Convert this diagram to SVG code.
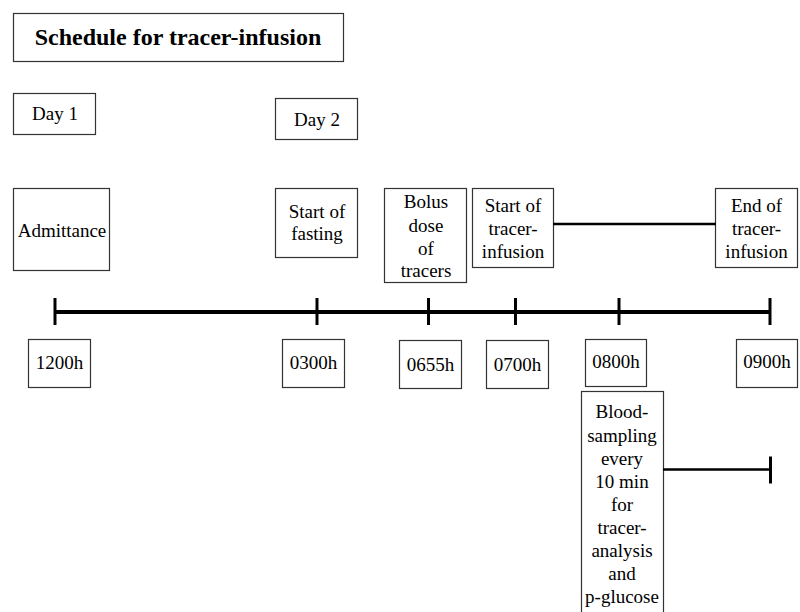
<svg xmlns="http://www.w3.org/2000/svg" width="800" height="612" viewBox="0 0 800 612">
<style>
.box{fill:#fff;stroke:#333;stroke-width:1.2}
.t{font-family:"Liberation Serif","Times New Roman",serif;font-size:19px;fill:#000;text-anchor:middle}
.title{font-family:"Liberation Serif","Times New Roman",serif;font-size:24px;font-weight:bold;fill:#000;text-anchor:middle}
.ax{stroke:#000;stroke-width:4;fill:none}
.tk{stroke:#000;stroke-width:3;fill:none}
.ln{stroke:#000;stroke-width:2.5;fill:none}
</style>
<rect width="800" height="612" fill="#fff"/>
<g id="title"><rect class="box" x="13.5" y="13.5" width="330" height="48"/><text class="title" x="178" y="45">Schedule for tracer-infusion</text></g>
<g id="day1"><rect class="box" x="13.5" y="93.5" width="82" height="41"/><text class="t" x="55" y="120">Day 1</text></g>
<g id="day2"><rect class="box" x="275.5" y="98.5" width="82" height="41"/><text class="t" x="317" y="126">Day 2</text></g>
<g id="admittance"><rect class="box" x="13.5" y="188.5" width="96" height="82"/><text class="t" x="62" y="237">Admittance</text></g>
<g id="fasting"><rect class="box" x="275.5" y="188.5" width="82" height="69"/><text class="t" x="317" y="218">Start of</text><text class="t" x="317" y="240">fasting</text></g>
<g id="bolus"><rect class="box" x="384.5" y="188.5" width="82" height="94"/><text class="t" x="426" y="208">Bolus</text><text class="t" x="426" y="232">dose</text><text class="t" x="426" y="255">of</text><text class="t" x="426" y="277">tracers</text></g>
<g id="start-infusion"><rect class="box" x="472.5" y="188.5" width="81" height="79"/><text class="t" x="513" y="212">Start of</text><text class="t" x="513" y="235">tracer-</text><text class="t" x="513" y="258">infusion</text></g>
<g id="end-infusion"><rect class="box" x="715.5" y="188.5" width="82" height="79"/><text class="t" x="756.5" y="212">End of</text><text class="t" x="756.5" y="235">tracer-</text><text class="t" x="756.5" y="258">infusion</text></g>
<g id="t1200"><rect class="box" x="28.5" y="339.5" width="62" height="48"/><text class="t" x="59.5" y="369">1200h</text></g>
<g id="t0300"><rect class="box" x="282.5" y="339.5" width="62" height="48"/><text class="t" x="313.5" y="369">0300h</text></g>
<g id="t0655"><rect class="box" x="399.5" y="340.5" width="62" height="48"/><text class="t" x="430.5" y="371">0655h</text></g>
<g id="t0700"><rect class="box" x="486.5" y="340.5" width="62" height="48"/><text class="t" x="517.5" y="371">0700h</text></g>
<g id="t0800"><rect class="box" x="585.5" y="339.5" width="61" height="47"/><text class="t" x="616" y="368">0800h</text></g>
<g id="t0900"><rect class="box" x="736.5" y="339.5" width="61" height="48"/><text class="t" x="767" y="368">0900h</text></g>
<g id="blood"><rect class="box" x="581.5" y="391.5" width="82" height="224"/><text class="t" x="622" y="418">Blood-</text><text class="t" x="622" y="441.5">sampling</text><text class="t" x="622" y="464.5">every</text><text class="t" x="622" y="487.5">10 min</text><text class="t" x="622" y="510.5">for</text><text class="t" x="622" y="533.5">tracer-</text><text class="t" x="622" y="556.5">analysis</text><text class="t" x="622" y="580">and</text><text class="t" x="622" y="603">p-glucose</text></g>
<g id="connectors">
<line class="ax" x1="55" y1="312" x2="770" y2="312"/>
<line class="tk" x1="55" y1="298" x2="55" y2="325"/>
<line class="tk" x1="317" y1="298" x2="317" y2="325"/>
<line class="tk" x1="428.5" y1="298" x2="428.5" y2="325"/>
<line class="tk" x1="515.5" y1="298" x2="515.5" y2="325"/>
<line class="tk" x1="619" y1="298" x2="619" y2="325"/>
<line class="tk" x1="770" y1="298" x2="770" y2="325"/>
<line class="ln" x1="553" y1="224" x2="716" y2="224"/>
<line class="ln" x1="663" y1="469.5" x2="770" y2="469.5"/>
<line class="tk" x1="770.5" y1="456.5" x2="770.5" y2="483.5"/>
</g>
</svg>
